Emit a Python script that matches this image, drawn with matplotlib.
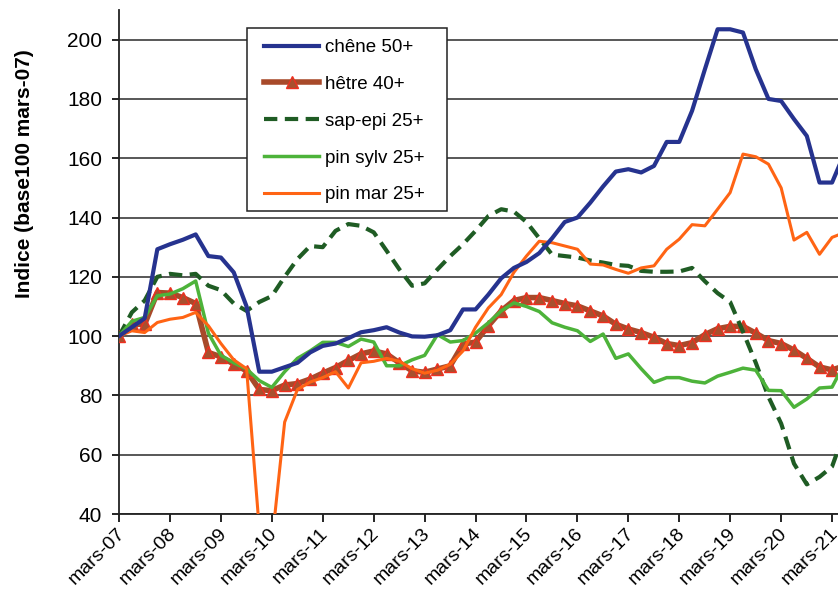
import matplotlib
matplotlib.use("Agg")
import matplotlib.pyplot as plt
import matplotlib.transforms as mtransforms
from matplotlib.patches import Rectangle
import pandas as pd

plt.rcParams['font.family'] = ['Liberation Sans', 'DejaVu Sans']

# quarterly observations starting March 2007
dates = pd.date_range('2007-03-01', periods=58, freq='3MS')

chene = [100, 103, 106, 129.3, 131, 132.5, 134.3, 127, 126.5, 121.5,
         110, 88, 88, 89.5, 91, 94.5, 96.7, 97.5, 99.3, 101.3,
         102, 103, 101.2, 99.9, 99.8, 100.3, 102, 109, 109, 114,
         119.5, 123, 125, 128, 133, 138.5, 140, 145, 150.5, 155.5,
         156.3, 155.2, 157.4, 165.5, 165.5, 176, 190, 203.5, 203.5, 202.4,
         190, 180, 179.3, 173.2, 167.5, 151.8, 151.8, 162]

hetre = [100, 104, 104, 114.7, 114.5, 113, 111, 94.5, 93, 90.6,
         88.3, 82, 81.6, 83.5, 84, 85.5, 87.5, 89.4, 91.8, 94,
         95, 94, 91, 88.3, 87.8, 88.9, 90, 97.3, 98, 103.5,
         108.5, 112, 113, 113, 112, 111, 110.2, 108.5, 106.8, 104,
         102.4, 101.2, 99.6, 97.5, 96.8, 97.8, 100.5, 102.5, 103.3, 103.3,
         101, 98.5, 97.5, 95.3, 92.5, 89.6, 88.6, 90]

sap_epi = [100, 108, 112, 120, 121, 120.5, 121, 117, 115.5, 111,
           108.5, 111.5, 113.5, 120, 126, 130.4, 130, 135.5, 137.8, 137.2,
           135, 128.8, 122.5, 117, 117.8, 122.5, 127, 131, 135.5, 140.5,
           142.8, 142, 138.5, 133, 127.5, 127, 126.5, 125.5, 124.8, 124,
           123.7, 122, 121.7, 121.7, 121.8, 123, 118.5, 114.5, 111.5, 101.5,
           91, 79.5, 70.5, 57, 50, 52.5, 56, 68]

pin_sylv = [100, 105, 106.3, 113.6, 114.2, 116, 118.6, 101, 93.5, 91,
            88.9, 85, 82.7, 88, 92.5, 95, 97.9, 97.9, 96.5, 99,
            98, 90, 90, 92, 93.5, 100.5, 98, 98.5, 101, 104.5,
            108.5, 111.2, 110, 108.3, 104.5, 103, 101.8, 98.2, 100.7, 92.5,
            94, 89, 84.4, 86, 86, 84.8, 84.2, 86.5, 87.8, 89.2,
            88.5, 81.7, 81.6, 76, 78.8, 82.5, 82.8, 91]

pin_mar = [100, 101.8, 101.2, 104.6, 105.7, 106.3, 108, 103.5, 97.5, 92,
           89, 35, 30, 71, 82, 84.5, 86, 88, 82.5, 91,
           91.5, 92.5, 91.5, 89, 87.5, 88.5, 90.5, 95, 103, 109.5,
           114, 121.5, 127, 132, 131.5, 130.4, 129.3, 124.3, 124, 122.5,
           121.2, 123, 123.7, 129.3, 132.7, 137.6, 137.2, 142.8, 148.4, 161.4,
           160.5, 158, 150, 132.4, 135, 127.6, 133.3, 135]

tick_dates = pd.date_range('2007-03-01', '2021-03-01', freq='12MS')
tick_labels = ['mars-07', 'mars-08', 'mars-09', 'mars-10', 'mars-11',
               'mars-12', 'mars-13', 'mars-14', 'mars-15', 'mars-16',
               'mars-17', 'mars-18', 'mars-19', 'mars-20', 'mars-21']
y_ticks = [40, 60, 80, 100, 120, 140, 160, 180, 200]

W, H = 838, 595
fig = plt.figure(figsize=(W / 100, H / 100), dpi=100)
ax_left, ax_bottom, ax_top = 119, 514, 10
px_per_year = 50.93
width_px = 15 * px_per_year
ax = fig.add_axes([ax_left / W, (H - ax_bottom) / H, width_px / W, (ax_bottom - ax_top) / H])

ax.set_xlim(pd.Timestamp('2007-03-01'), pd.Timestamp('2022-03-01'))
ax.set_ylim(40, 210)

for y in y_ticks:
    ax.axhline(y, color='#2a2a2a', lw=1.1, zorder=1)

ax.plot(dates, chene, color='#26338F', lw=3, label='chêne 50+', zorder=5)
ax.plot(dates, hetre, color='#A84A2A', lw=4, marker='^', markersize=9,
        markerfacecolor='#A8502E', markeredgecolor='#EE3020', markeredgewidth=1,
        label='hêtre 40+', zorder=3)
ax.plot(dates, sap_epi, color='#1F5C24', lw=3, dashes=(3.2, 1.8),
        label='sap-epi 25+', zorder=4)
ax.plot(dates, pin_sylv, color='#4DB33A', lw=2.5, label='pin sylv 25+', zorder=4)
ax.plot(dates, pin_mar, color='#FF6414', lw=2.2, label='pin mar 25+', zorder=4)

ax.set_yticks(y_ticks)
ax.set_xticks(tick_dates)
ax.set_xticklabels(tick_labels, rotation=45, ha='right', va='center',
                   rotation_mode='anchor', fontsize=14)
ax.tick_params(axis='y', labelsize=15, direction='out', length=5, width=1.2, pad=7)
ax.tick_params(axis='x', direction='out', length=6, width=1.2, pad=4)
offset = mtransforms.ScaledTranslation(3 / 100, -3 / 100, fig.dpi_scale_trans)
for lab in ax.get_xticklabels():
    lab.set_transform(lab.get_transform() + offset)

for s in ['top', 'right']:
    ax.spines[s].set_visible(False)
for s in ['left', 'bottom']:
    ax.spines[s].set_linewidth(1.3)
    ax.spines[s].set_color('#222222')

fig.text(24 / W, 1 - 174 / H, 'Indice (base100 mars-07)', rotation=90,
         ha='center', va='center', fontsize=15, fontweight='bold')

# legend box
box = Rectangle((247 / W, 1 - 211 / H), 200 / W, 183 / H, transform=fig.transFigure,
                facecolor='white', edgecolor='#222222', lw=1.1, zorder=9,
                clip_on=False)
ax.add_patch(box)

leg = ax.legend(loc='upper left', bbox_to_anchor=(264 / W, 1 - 39 / H),
                bbox_transform=fig.transFigure, fontsize=13.5, frameon=False,
                borderaxespad=0, borderpad=0, handlelength=2.95, handletextpad=0.3,
                labelspacing=1.05)
leg.set_zorder(10)

fig.savefig('out.png', dpi=100)
